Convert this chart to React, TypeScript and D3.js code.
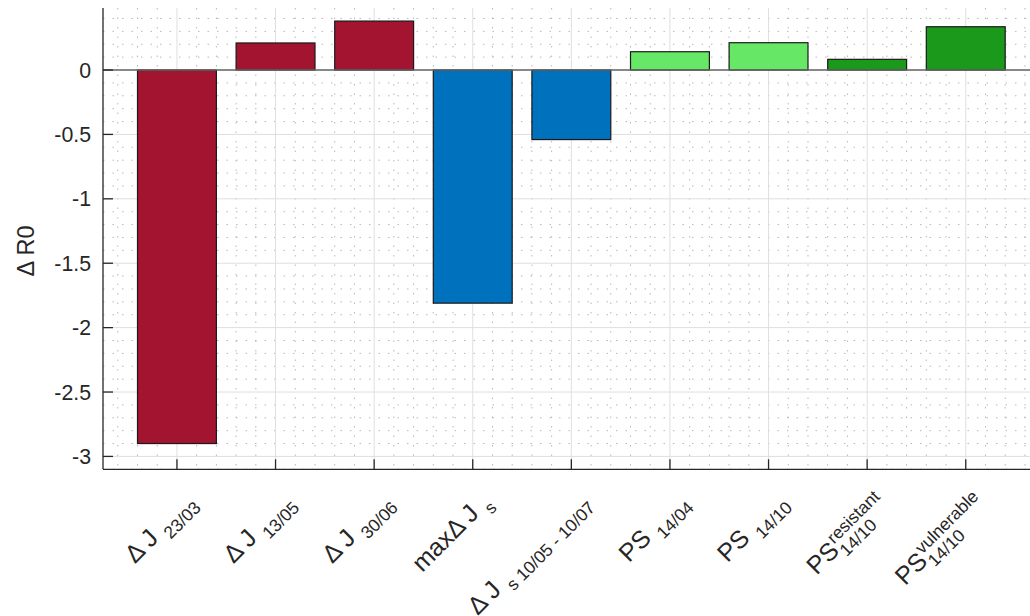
import { useEffect, useRef } from "react";
import * as d3 from "d3";

// bar values
const categories = [1, 2, 3, 4, 5, 6, 7, 8, 9];
const values = [-2.9, 0.21, 0.38, -1.81, -0.54, 0.142, 0.212, 0.083, 0.336];
const barColors = [
  "#A2142F",
  "#A2142F",
  "#A2142F",
  "#0072BD",
  "#0072BD",
  "#66E866",
  "#66E866",
  "#1A991A",
  "#1A991A",
];

type Piece = { t: string; s?: "sub" | "sup" };
// tick labels, main text + sub/superscripts
const tickLabels: Piece[][] = [
  [{ t: "Δ J " }, { t: "23/03", s: "sub" }],
  [{ t: "Δ J " }, { t: "13/05", s: "sub" }],
  [{ t: "Δ J " }, { t: "30/06", s: "sub" }],
  [{ t: "maxΔ J " }, { t: "s", s: "sub" }],
  [{ t: "Δ J " }, { t: "s 10/05 - 10/07", s: "sub" }],
  [{ t: "PS " }, { t: "14/04", s: "sub" }],
  [{ t: "PS " }, { t: "14/10", s: "sub" }],
  [{ t: "PS" }, { t: "resistant", s: "sup" }, { t: "14/10", s: "sub" }],
  [{ t: "PS" }, { t: "vulnerable", s: "sup" }, { t: "14/10", s: "sub" }],
];
const yTicks = [-3, -2.5, -2, -1.5, -1, -0.5, 0];
const yLabel = "Δ R0";

const FONT = "'Liberation Sans', Arial, Helvetica, sans-serif";
const TXT = "#262626";

const App = () => {
  const ref = useRef<SVGSVGElement>(null);

  useEffect(() => {
    const W = 1030;
    const H = 616;
    const left = 103;
    const top = 8;
    const bottom = 469.3;
    const unit = 98.6;

    const x = d3
      .scaleLinear()
      .domain([0.25, 9.75])
      .range([left, left + 9.5 * unit]);
    const y = d3.scaleLinear().domain([-3.1, 0.4815]).range([bottom, top]);

    const svg = d3.select(ref.current);
    svg.selectAll("*").remove();
    svg.attr("width", W).attr("height", H);

    const right = x(9.75);

    // minor grid
    const minorX = d3.range(0.4, 9.75, 0.2).filter((v) => Math.abs(v - Math.round(v)) > 0.01);
    const minorY = d3
      .range(-3.1, 0.48, 0.1)
      .filter((v) => Math.abs(v * 2 - Math.round(v * 2)) > 0.01);

    const grid = svg.append("g");
    grid
      .selectAll(".mx")
      .data(minorX)
      .enter()
      .append("line")
      .attr("x1", (d) => x(d))
      .attr("x2", (d) => x(d))
      .attr("y1", top)
      .attr("y2", bottom)
      .attr("stroke", "#b8b8b8")
      .attr("stroke-width", 1)
      .attr("stroke-dasharray", "1.5,8");
    grid
      .selectAll(".my")
      .data(minorY)
      .enter()
      .append("line")
      .attr("x1", left)
      .attr("x2", right)
      .attr("y1", (d) => y(d))
      .attr("y2", (d) => y(d))
      .attr("stroke", "#b8b8b8")
      .attr("stroke-width", 1)
      .attr("stroke-dasharray", "1.5,8");

    // major grid
    grid
      .selectAll(".gx")
      .data(categories)
      .enter()
      .append("line")
      .attr("x1", (d) => x(d))
      .attr("x2", (d) => x(d))
      .attr("y1", top)
      .attr("y2", bottom)
      .attr("stroke", "#dfdfdf")
      .attr("stroke-width", 1);
    grid
      .selectAll(".gy")
      .data(yTicks)
      .enter()
      .append("line")
      .attr("x1", left)
      .attr("x2", right)
      .attr("y1", (d) => y(d))
      .attr("y2", (d) => y(d))
      .attr("stroke", "#dfdfdf")
      .attr("stroke-width", 1);

    // bars
    const bw = 0.8 * unit;
    svg
      .selectAll(".bar")
      .data(values)
      .enter()
      .append("rect")
      .attr("x", (_, i) => x(categories[i]) - bw / 2)
      .attr("y", (d) => y(Math.max(0, d)))
      .attr("width", bw)
      .attr("height", (d) => Math.abs(y(d) - y(0)))
      .attr("fill", (_, i) => barColors[i])
      .attr("stroke", "#1a1a1a")
      .attr("stroke-width", 1.2);

    // baseline
    svg
      .append("line")
      .attr("x1", left)
      .attr("x2", right)
      .attr("y1", y(0))
      .attr("y2", y(0))
      .attr("stroke", "#666")
      .attr("stroke-width", 1.5);

    // axes
    const ax = svg.append("g").attr("stroke", TXT).attr("stroke-width", 1.3);
    ax.append("line").attr("x1", left).attr("x2", left).attr("y1", top).attr("y2", bottom);
    ax.append("line").attr("x1", left).attr("x2", right).attr("y1", bottom).attr("y2", bottom);
    ax.selectAll(".ty")
      .data(yTicks)
      .enter()
      .append("line")
      .attr("x1", left)
      .attr("x2", left + 10)
      .attr("y1", (d) => y(d))
      .attr("y2", (d) => y(d));
    ax.selectAll(".tx")
      .data(categories)
      .enter()
      .append("line")
      .attr("x1", (d) => x(d))
      .attr("x2", (d) => x(d))
      .attr("y1", bottom)
      .attr("y2", bottom - 10);

    // y tick labels
    svg
      .selectAll(".yl")
      .data(yTicks)
      .enter()
      .append("text")
      .attr("x", left - 12)
      .attr("y", (d) => y(d))
      .attr("dy", "0.36em")
      .attr("text-anchor", "end")
      .attr("font-family", FONT)
      .attr("font-size", 21.3)
      .attr("fill", TXT)
      .text((d) => String(d));

    // y label
    svg
      .append("text")
      .attr("transform", `translate(34,251) rotate(-90)`)
      .attr("text-anchor", "middle")
      .attr("font-family", FONT)
      .attr("font-size", 23.5)
      .attr("fill", TXT)
      .text(yLabel);

    // x tick labels, rotated 45deg, right-middle anchored
    const mainSize = 25;
    const smallSize = 17.5;
    const subDy = 8;
    const supDy = -10;
    tickLabels.forEach((pieces, i) => {
      const g = svg
        .append("g")
        .attr("transform", `translate(${x(categories[i]) + 16},500) rotate(-45)`);
      const inner = g.append("g");
      let cursor = 0;
      let stackStart = 0;
      let stackW = 0;
      let hasSup = false;
      let hasSub = false;
      pieces.forEach((p) => {
        if (!p.s) {
          cursor += stackW;
          stackW = 0;
          const t = inner
            .append("text")
            .attr("x", cursor)
            .attr("y", 0)
            .attr("font-family", FONT)
            .attr("font-size", mainSize)
            .attr("fill", TXT)
            .style("white-space", "pre")
            .text(p.t);
          cursor += (t.node() as SVGTextElement).getComputedTextLength();
          stackStart = cursor;
        } else {
          if (p.s === "sup") hasSup = true;
          else hasSub = true;
          const t = inner
            .append("text")
            .attr("x", stackStart + 1)
            .attr("y", p.s === "sub" ? subDy : supDy)
            .attr("font-family", FONT)
            .attr("font-size", smallSize)
            .attr("fill", TXT)
            .style("white-space", "pre")
            .text(p.t);
          stackW = Math.max(stackW, (t.node() as SVGTextElement).getComputedTextLength() + 1);
        }
      });
      const total = cursor + stackW;
      const topV = hasSup ? supDy - 12.5 : -18;
      const botV = hasSub ? subDy + 1 : 1;
      const vc = (topV + botV) / 2;
      inner.attr("transform", `translate(${-total},${-vc})`);
    });
  }, []);

  return (
    <svg
      ref={ref}
      style={{ position: "absolute", left: 0, top: 0, background: "#fff" }}
    ></svg>
  );
};

export default App;
